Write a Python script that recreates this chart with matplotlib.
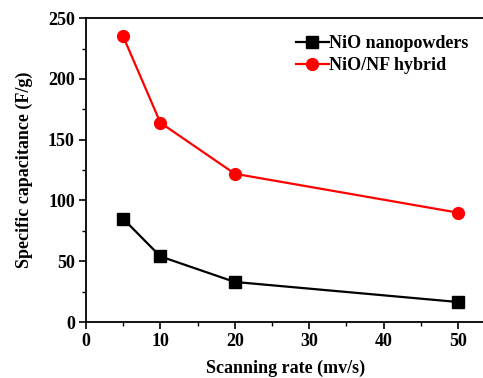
import numpy as np
import matplotlib
matplotlib.use("Agg")
from matplotlib import pyplot as plt
from matplotlib.ticker import MultipleLocator

# scanning rate (mV/s) and specific capacitance (F/g)
rate = [5, 10, 20, 50]
cap_nio = [85, 54, 33, 16.5]
cap_hybrid = [235, 164, 122, 90]

plt.rcParams['font.family'] = ['Liberation Serif', 'DejaVu Serif']
plt.rcParams['font.weight'] = 'bold'

fig = plt.figure(figsize=(4.83, 3.78), dpi=100)
ax = fig.add_axes([0.178, 0.148, 0.827, 0.804])

ax.plot(rate, cap_nio, '-s', color='black', lw=1.6, ms=8, label='NiO nanopowders')
ax.plot(rate, cap_hybrid, '-o', color='red', lw=1.6, ms=8.5, label='NiO/NF hybrid')

ax.set_xlim(0, 53.7)
ax.set_ylim(0, 250)
ax.xaxis.set_major_locator(MultipleLocator(10))
ax.xaxis.set_minor_locator(MultipleLocator(5))
ax.yaxis.set_major_locator(MultipleLocator(50))
ax.yaxis.set_minor_locator(MultipleLocator(25))
ax.tick_params(which='major', direction='out', length=5, width=1.2, labelsize=13, pad=3)
ax.tick_params(which='minor', direction='out', length=3, width=1.0)
for s in ax.spines.values():
    s.set_linewidth(1.3)

ax.set_xlabel('Scanning rate (mv/s)', fontsize=13, fontweight='bold', labelpad=7)
ax.set_ylabel('Specific capacitance (F/g)', fontsize=13, fontweight='bold', labelpad=11)

leg = ax.legend(loc='upper right', frameon=False, fontsize=13, handlelength=1.8,
                handletextpad=0.0, borderaxespad=0.3, labelspacing=0.25,
                bbox_to_anchor=(0.988, 0.985))
for t in leg.get_texts():
    t.set_fontweight('bold')

fig.savefig('out.png', dpi=100)
